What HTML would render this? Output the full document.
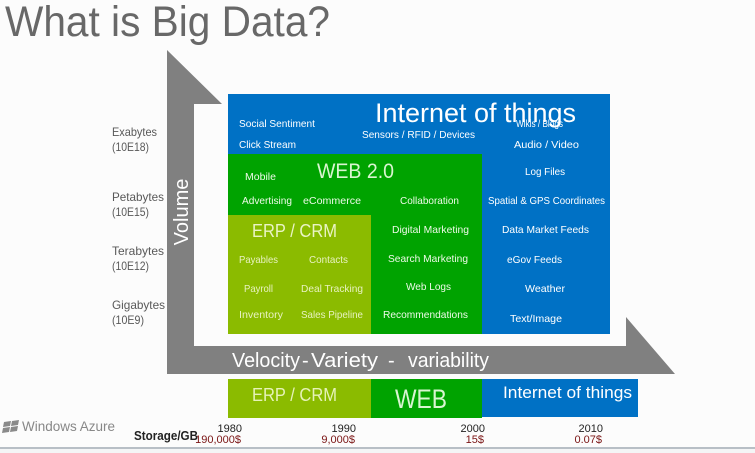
<!DOCTYPE html>
<html>
<head>
<meta charset="utf-8">
<style>
  html,body{margin:0;padding:0;background:#fcfcfc;}
  svg{display:block;}
  text{font-family:"Liberation Sans",sans-serif;}
</style>
</head>
<body>
<svg width="755" height="453" viewBox="0 0 755 453" xmlns="http://www.w3.org/2000/svg">
  <rect x="0" y="0" width="755" height="453" fill="#fcfcfc"/>

  <!-- Title -->
  <text x="5" y="36" font-size="43" fill="#686868" textLength="325" lengthAdjust="spacingAndGlyphs">What is Big Data?</text>

  <!-- Gray L arrow -->
  <polygon points="167,50 222,104 194,104 194,346 626,346 626,317 675,374 167,374" fill="#808080"/>

  <!-- Volume -->
  <text transform="translate(188,212) rotate(-90)" text-anchor="middle" font-size="20" fill="#ffffff">Volume</text>

  <!-- Velocity text -->
  <text x="232" y="367" font-size="20" fill="#ffffff" textLength="68" lengthAdjust="spacingAndGlyphs">Velocity</text>
  <text x="302" y="367" font-size="20" fill="#ffffff">-</text>
  <text x="311" y="367" font-size="20" fill="#ffffff" textLength="67" lengthAdjust="spacingAndGlyphs">Variety</text>
  <text x="388" y="367" font-size="20" fill="#ffffff">-</text>
  <text x="408" y="367" font-size="20" fill="#ffffff" textLength="81" lengthAdjust="spacingAndGlyphs">variability</text>

  <!-- Left labels -->
  <g font-size="12" fill="#595959">
    <text x="112" y="136" textLength="45" lengthAdjust="spacingAndGlyphs">Exabytes</text>
    <text x="112" y="151" textLength="37" lengthAdjust="spacingAndGlyphs">(10E18)</text>
    <text x="112" y="201" textLength="52" lengthAdjust="spacingAndGlyphs">Petabytes</text>
    <text x="112" y="216" textLength="37" lengthAdjust="spacingAndGlyphs">(10E15)</text>
    <text x="112" y="255" textLength="52" lengthAdjust="spacingAndGlyphs">Terabytes</text>
    <text x="112" y="270" textLength="37" lengthAdjust="spacingAndGlyphs">(10E12)</text>
    <text x="112" y="309" textLength="53" lengthAdjust="spacingAndGlyphs">Gigabytes</text>
    <text x="112" y="324" textLength="32" lengthAdjust="spacingAndGlyphs">(10E9)</text>
  </g>

  <!-- Main boxes -->
  <rect x="228" y="94" width="382" height="240" fill="#0071c5"/>
  <rect x="228" y="154" width="254" height="180" fill="#00a300"/>
  <rect x="228" y="215" width="143" height="119" fill="#8bbb00"/>

  <!-- Blue box text -->
  <g font-size="10.5" fill="#ffffff">
    <text x="239" y="127" textLength="76" lengthAdjust="spacingAndGlyphs">Social Sentiment</text>
    <text x="239" y="148" textLength="57" lengthAdjust="spacingAndGlyphs">Click Stream</text>
    <text x="362" y="138" textLength="113" lengthAdjust="spacingAndGlyphs">Sensors / RFID / Devices</text>
    <text x="516" y="127" textLength="47" lengthAdjust="spacingAndGlyphs">Wikis / Blogs</text>
    <text x="514" y="148" textLength="65" lengthAdjust="spacingAndGlyphs">Audio / Video</text>
    <text x="525" y="175" textLength="40" lengthAdjust="spacingAndGlyphs">Log Files</text>
    <text x="488" y="204" textLength="117" lengthAdjust="spacingAndGlyphs">Spatial &amp; GPS Coordinates</text>
    <text x="502" y="233" textLength="87" lengthAdjust="spacingAndGlyphs">Data Market Feeds</text>
    <text x="507" y="263" textLength="55" lengthAdjust="spacingAndGlyphs">eGov Feeds</text>
    <text x="525" y="292" textLength="40" lengthAdjust="spacingAndGlyphs">Weather</text>
    <text x="510" y="322" textLength="52" lengthAdjust="spacingAndGlyphs">Text/Image</text>
  </g>
  <text x="375" y="122" font-size="27" fill="#ffffff" textLength="201" lengthAdjust="spacingAndGlyphs">Internet of things</text>

  <!-- Green box text -->
  <text x="317" y="178" font-size="21" fill="#d9f5d0" textLength="77" lengthAdjust="spacingAndGlyphs">WEB 2.0</text>
  <g font-size="10.5" fill="#eefae8">
    <text x="245" y="180" textLength="31" lengthAdjust="spacingAndGlyphs">Mobile</text>
    <text x="242" y="204" textLength="50" lengthAdjust="spacingAndGlyphs">Advertising</text>
    <text x="303" y="204" textLength="58" lengthAdjust="spacingAndGlyphs">eCommerce</text>
    <text x="400" y="204" textLength="59" lengthAdjust="spacingAndGlyphs">Collaboration</text>
    <text x="392" y="233" textLength="77" lengthAdjust="spacingAndGlyphs">Digital Marketing</text>
    <text x="388" y="262" textLength="80" lengthAdjust="spacingAndGlyphs">Search Marketing</text>
    <text x="406" y="290" textLength="45" lengthAdjust="spacingAndGlyphs">Web Logs</text>
    <text x="383" y="318" textLength="85" lengthAdjust="spacingAndGlyphs">Recommendations</text>
  </g>

  <!-- ERP box text -->
  <text x="252" y="237" font-size="18" fill="#eaf4c4" textLength="85" lengthAdjust="spacingAndGlyphs">ERP / CRM</text>
  <g font-size="10.5" fill="#e8f2c0">
    <text x="239" y="263" textLength="39" lengthAdjust="spacingAndGlyphs">Payables</text>
    <text x="309" y="263" textLength="39" lengthAdjust="spacingAndGlyphs">Contacts</text>
    <text x="244" y="292" textLength="29" lengthAdjust="spacingAndGlyphs">Payroll</text>
    <text x="301" y="292" textLength="62" lengthAdjust="spacingAndGlyphs">Deal Tracking</text>
    <text x="239" y="318" textLength="44" lengthAdjust="spacingAndGlyphs">Inventory</text>
    <text x="301" y="318" textLength="62" lengthAdjust="spacingAndGlyphs">Sales Pipeline</text>
  </g>

  <!-- Bottom bar -->
  <rect x="228" y="379" width="143" height="39" fill="#8bbb00"/>
  <rect x="371" y="379" width="111" height="39" fill="#00a300"/>
  <rect x="482" y="379" width="156" height="38" fill="#0071c5"/>
  <text x="252" y="401" font-size="18" fill="#e6f2b8" textLength="85" lengthAdjust="spacingAndGlyphs">ERP / CRM</text>
  <text x="395" y="408" font-size="27" fill="#d8f5d0" textLength="52" lengthAdjust="spacingAndGlyphs">WEB</text>
  <text x="503" y="398" font-size="17" fill="#ffffff" textLength="129" lengthAdjust="spacingAndGlyphs">Internet of things</text>

  <!-- Years & prices -->
  <g font-size="11" fill="#222222" text-anchor="end">
    <text x="242" y="432">1980</text>
    <text x="356" y="432">1990</text>
    <text x="485" y="432">2000</text>
    <text x="603" y="432">2010</text>
  </g>
  <g font-size="11" fill="#7a1414" text-anchor="end">
    <text x="241" y="443">190,000$</text>
    <text x="355" y="443">9,000$</text>
    <text x="484" y="443">15$</text>
    <text x="602" y="443">0.07$</text>
  </g>
  <text x="134" y="440" font-size="12.5" font-weight="bold" fill="#222222" textLength="64" lengthAdjust="spacingAndGlyphs">Storage/GB</text>

  <!-- Windows Azure logo -->
  <g fill="#8a8a8a">
    <polygon points="4,422 11,421 10,426 3,427"/>
    <polygon points="12,421 19,420 18,425 11,426"/>
    <polygon points="3,428 10,427 9,432 2,433"/>
    <polygon points="11,427 18,426 17,431 10,432"/>
  </g>
  <text x="22" y="431" font-size="14" fill="#888888" textLength="93" lengthAdjust="spacingAndGlyphs">Windows Azure</text>

  <!-- bottom line -->
  <rect x="0" y="447" width="755" height="2" fill="#b8bfc6"/>
  <rect x="0" y="449" width="755" height="4" fill="#f4f5f6"/>
</svg>
</body>
</html>
